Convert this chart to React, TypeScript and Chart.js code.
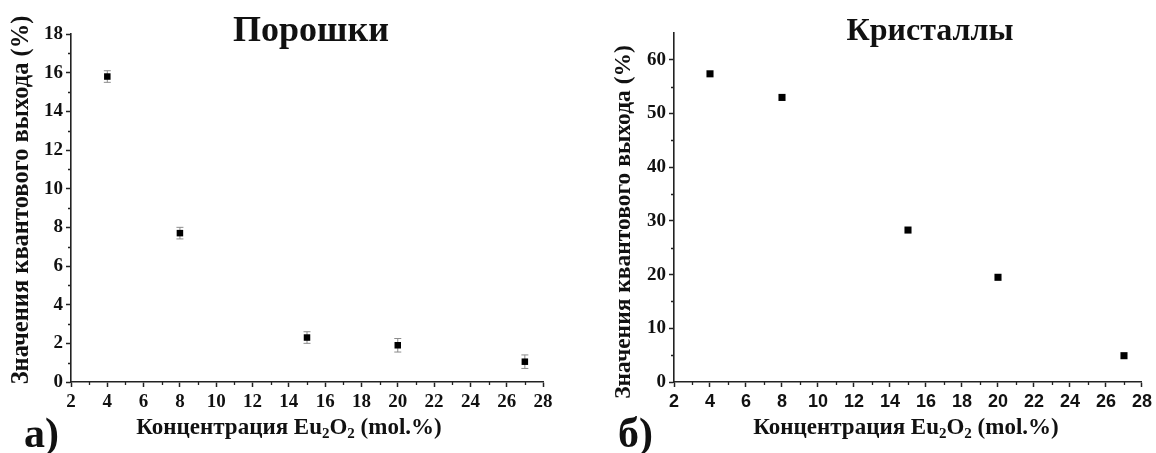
import React, { useEffect, useRef } from 'react';
import { Chart, registerables } from 'chart.js';

Chart.register(...registerables);

// Eu2O2 concentration (mol.%) of the samples
const concentrations = [4, 8, 15, 20, 27];
// Quantum yield of the powders (%) and its uncertainty
const powderYield = [15.8, 7.7, 2.3, 1.9, 1.05];
const powderError = [0.3, 0.3, 0.3, 0.35, 0.35];
// Quantum yield of the crystals (%)
const crystalYield = [57.4, 53.0, 28.3, 19.5, 4.9];

const powderTitle = 'Порошки';
const crystalTitle = 'Кристаллы';
const yAxisTitle = 'Значения квантового выхода (%)';
const panelLetters = ['а)', 'б)'];

const SERIF = "'Liberation Serif', 'Times New Roman', serif";
const SANS = "'Liberation Sans', Arial, sans-serif";
const AXIS_COLOR = '#222';

const W = 578;
const H = 453;

type PanelCfg = {
  left: number;
  title: string;
  letter: string;
  values: number[];
  errors?: number[];
  yMax: number;
  yStep: number;
  yMinorStep: number;
  xTickFont: string;
  xTickSize: number;
  pointRadius: number;
  area: { left: number; right: number; top: number; bottom: number };
  titlePos: [number, number];
  titleSize: number;
  yTitlePos: [number, number];
  xTitlePos: [number, number];
  letterPos: [number, number];
  yTitleSize: number;
};

// Draws the error bars behind the markers
const errorBarPlugin = {
  id: 'errorBars',
  beforeDatasetsDraw(chart: any, _args: any, opts: any) {
    const errs: number[] | undefined = opts?.errors;
    if (!errs) return;
    const { ctx } = chart;
    const xs = chart.scales.x;
    const ys = chart.scales.y;
    const data = chart.data.datasets[0].data as { x: number; y: number }[];
    ctx.save();
    ctx.strokeStyle = '#8c8c8c';
    ctx.lineWidth = 1;
    data.forEach((p, i) => {
      const px = xs.getPixelForValue(p.x);
      const top = ys.getPixelForValue(p.y + errs[i]);
      const bot = ys.getPixelForValue(p.y - errs[i]);
      ctx.beginPath();
      ctx.moveTo(px, top);
      ctx.lineTo(px, bot);
      ctx.moveTo(px - 3.5, top);
      ctx.lineTo(px + 3.5, top);
      ctx.moveTo(px - 3.5, bot);
      ctx.lineTo(px + 3.5, bot);
      ctx.stroke();
    });
    ctx.restore();
  },
};

// Short minor ticks between the labelled ones
const minorTickPlugin = {
  id: 'minorTicks',
  afterDraw(chart: any, _args: any, opts: any) {
    const { ctx } = chart;
    const xs = chart.scales.x;
    const ys = chart.scales.y;
    ctx.save();
    ctx.strokeStyle = AXIS_COLOR;
    ctx.lineWidth = 1.3;
    ctx.beginPath();
    for (let v = xs.min + opts.xMinor; v < xs.max; v += opts.xMinor * 2) {
      const px = Math.round(xs.getPixelForValue(v)) + 0.5;
      ctx.moveTo(px, ys.bottom);
      ctx.lineTo(px, ys.bottom + 3);
    }
    for (let v = opts.yMinor; v < ys.max; v += opts.yMinor * 2) {
      const py = Math.round(ys.getPixelForValue(v)) + 0.5;
      ctx.moveTo(xs.left, py);
      ctx.lineTo(xs.left - 3, py);
    }
    ctx.stroke();
    ctx.restore();
  },
};

// Panel title, axis titles and panel letter
const textPlugin = {
  id: 'panelText',
  afterDraw(chart: any, _args: any, o: any) {
    const { ctx } = chart;
    ctx.save();
    ctx.fillStyle = '#111';
    ctx.textBaseline = 'alphabetic';

    ctx.font = `bold ${o.titleSize}px ${SERIF}`;
    ctx.textAlign = 'center';
    ctx.fillText(o.title, o.titlePos[0], o.titlePos[1]);

    ctx.save();
    ctx.translate(o.yTitlePos[0], o.yTitlePos[1]);
    ctx.rotate(-Math.PI / 2);
    ctx.font = `bold ${o.yTitleSize}px ${SERIF}`;
    ctx.textBaseline = 'middle';
    ctx.fillText(o.yTitle, 0, 0);
    ctx.restore();

    // "Концентрация Eu2O2 (mol.%)" with subscripts
    const parts: [string, boolean][] = [
      ['Концентрация Eu', false],
      ['2', true],
      ['O', false],
      ['2', true],
      [' (mol.%)', false],
    ];
    const big = `bold 23px ${SERIF}`;
    const small = `bold 15px ${SERIF}`;
    let total = 0;
    parts.forEach(([t, sub]) => {
      ctx.font = sub ? small : big;
      total += ctx.measureText(t).width;
    });
    let x = o.xTitlePos[0] - total / 2;
    ctx.textAlign = 'left';
    parts.forEach(([t, sub]) => {
      ctx.font = sub ? small : big;
      ctx.fillText(t, x, o.xTitlePos[1] + (sub ? 4 : 0));
      x += ctx.measureText(t).width;
    });

    ctx.font = `bold 42px ${SERIF}`;
    ctx.fillText(o.letter, o.letterPos[0], o.letterPos[1]);
    ctx.restore();
  },
};

function Panel({ cfg }: { cfg: PanelCfg }) {
  const ref = useRef<HTMLCanvasElement>(null);

  useEffect(() => {
    const a = cfg.area;
    const tickFontY = { family: SERIF, weight: 'bold' as const, size: 19 };
    const tickFontX = { family: cfg.xTickFont, weight: 'bold' as const, size: cfg.xTickSize };
    const grid = {
      drawOnChartArea: false,
      drawTicks: true,
      tickLength: 5,
      tickColor: AXIS_COLOR,
      tickWidth: 1.5,
    };
    const border = { display: true, color: AXIS_COLOR, width: 1.6 };

    const chart = new Chart(ref.current as HTMLCanvasElement, {
      type: 'scatter',
      data: {
        datasets: [
          {
            data: concentrations.map((x, i) => ({ x, y: cfg.values[i] })),
            pointStyle: 'rect',
            pointRadius: cfg.pointRadius,
            backgroundColor: '#000',
            borderColor: '#000',
            borderWidth: 0,
            showLine: false,
          },
        ],
      },
      options: {
        responsive: false,
        animation: false,
        devicePixelRatio: 1,
        layout: {
          padding: { left: 0, right: W - a.right, top: a.top, bottom: 0 },
        },
        scales: {
          x: {
            type: 'linear',
            min: 2,
            max: 28,
            ticks: {
              stepSize: 2,
              font: tickFontX,
              color: '#111',
              padding: 4,
              autoSkip: false,
              maxRotation: 0,
            },
            grid,
            border,
            afterFit: (s: any) => {
              s.height = H - a.bottom;
            },
          },
          y: {
            type: 'linear',
            min: 0,
            max: cfg.yMax,
            ticks: {
              stepSize: cfg.yStep,
              font: tickFontY,
              color: '#111',
              padding: 3,
            },
            afterBuildTicks: (s: any) => {
              s.ticks = s.ticks.filter((t: any) => Math.abs(t.value / cfg.yStep - Math.round(t.value / cfg.yStep)) < 1e-6);
            },
            grid,
            border,
            afterFit: (s: any) => {
              s.width = a.left;
            },
          },
        },
        plugins: {
          legend: { display: false },
          tooltip: { enabled: false },
          errorBars: { errors: cfg.errors },
          minorTicks: { xMinor: 1, yMinor: cfg.yMinorStep },
          panelText: {
            title: cfg.title,
            titlePos: cfg.titlePos,
            titleSize: cfg.titleSize,
            yTitle: yAxisTitle,
            yTitlePos: cfg.yTitlePos,
            yTitleSize: cfg.yTitleSize,
            xTitlePos: cfg.xTitlePos,
            letter: cfg.letter,
            letterPos: cfg.letterPos,
          },
        } as any,
      },
      plugins: [errorBarPlugin, minorTickPlugin, textPlugin],
    });
    return () => chart.destroy();
  }, [cfg]);

  return (
    <canvas
      ref={ref}
      width={W}
      height={H}
      style={{ position: 'absolute', left: cfg.left, top: 0, width: W, height: H }}
    />
  );
}

const powderPanel: PanelCfg = {
  left: 0,
  title: powderTitle,
  letter: panelLetters[0],
  values: powderYield,
  errors: powderError,
  yMax: 18,
  yStep: 2,
  yMinorStep: 1,
  xTickFont: SERIF,
  xTickSize: 19,
  pointRadius: 4.6,
  area: { left: 71, right: 543, top: 34, bottom: 382 },
  titlePos: [311, 41],
  titleSize: 36,
  yTitlePos: [22, 200],
  xTitlePos: [289, 434],
  letterPos: [24, 447],
  yTitleSize: 24.5,
};

const crystalPanel: PanelCfg = {
  left: 578,
  title: crystalTitle,
  letter: panelLetters[1],
  values: crystalYield,
  yMax: 65,
  yStep: 10,
  yMinorStep: 5,
  xTickFont: SANS,
  xTickSize: 18,
  pointRadius: 5,
  area: { left: 96, right: 566, top: 33, bottom: 382 },
  titlePos: [352, 40],
  titleSize: 32,
  yTitlePos: [46, 222],
  xTitlePos: [328, 434],
  letterPos: [40, 447],
  yTitleSize: 23.5,
};

export default function App() {
  return (
    <div style={{ position: 'absolute', left: 0, top: 0, width: 1156, height: 453, background: '#fff' }}>
      <Panel cfg={powderPanel} />
      <Panel cfg={crystalPanel} />
    </div>
  );
}
